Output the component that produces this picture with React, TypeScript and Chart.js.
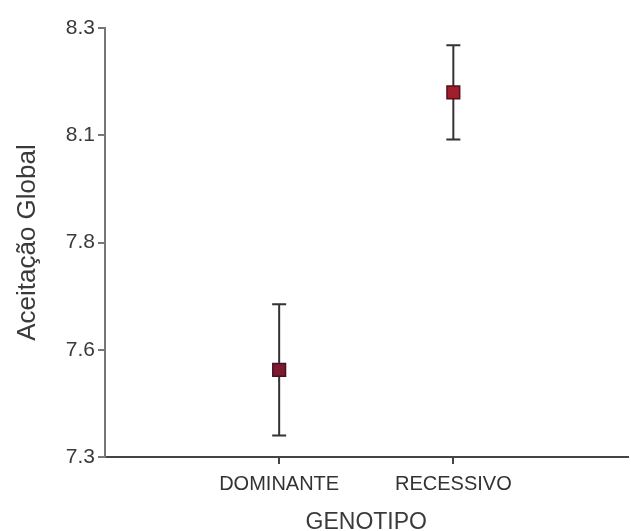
import React, { useEffect, useRef } from "react";
import { Chart, registerables } from "chart.js";

Chart.register(...registerables);

const categories = ["DOMINANTE", "RECESSIVO"];
const categoryPositions = [1, 2];
const means = [7.503, 8.15];
const errors = [0.153, 0.11];
const yTicks = [7.3, 7.55, 7.8, 8.05, 8.3];
const yTickLabels = ["7.3", "7.6", "7.8", "8.1", "8.3"];
const yTitle = "Aceitação Global";
const xTitle = "GENOTIPO";

const FONT = "'Liberation Sans', Arial, sans-serif";

const errorBarPlugin = {
  id: "errorBars",
  beforeDatasetsDraw(chart: any) {
    const { ctx, scales } = chart;
    const xs = scales.x;
    const ys = scales.y;
    ctx.save();
    ctx.strokeStyle = "#333333";
    ctx.lineWidth = 2;
    categoryPositions.forEach((pos, i) => {
      const x = xs.getPixelForValue(pos);
      const yTop = ys.getPixelForValue(means[i] + errors[i]);
      const yBot = ys.getPixelForValue(means[i] - errors[i]);
      ctx.beginPath();
      ctx.moveTo(x, yTop);
      ctx.lineTo(x, yBot);
      ctx.moveTo(x - 7, yTop);
      ctx.lineTo(x + 7, yTop);
      ctx.moveTo(x - 7, yBot);
      ctx.lineTo(x + 7, yBot);
      ctx.stroke();
    });
    ctx.restore();
  },
};

export default function App() {
  const ref = useRef<HTMLCanvasElement>(null);

  useEffect(() => {
    if (!ref.current) return;
    const chart = new Chart(ref.current, {
      type: "scatter",
      data: {
        datasets: [
          {
            data: categoryPositions.map((p, i) => ({ x: p, y: means[i] })),
            pointStyle: "rect",
            pointRadius: 9,
            pointHoverRadius: 9,
            backgroundColor: ["#7c1a30", "#a01f2c"],
            borderColor: ["#4a1020", "#5a1018"],
            borderWidth: 1.5,
          },
        ],
      },
      options: {
        animation: false,
        responsive: false,
        events: [],
        layout: { padding: { top: 28, right: 0, left: 0, bottom: 0 } },
        plugins: {
          legend: { display: false },
          tooltip: { enabled: false },
        },
        scales: {
          x: {
            type: "linear",
            min: 0,
            max: 3,
            afterBuildTicks: (scale: any) => {
              scale.ticks = categoryPositions.map((v) => ({ value: v }));
            },
            afterFit: (scale: any) => {
              scale.height = 74;
            },
            ticks: {
              autoSkip: false,
              maxRotation: 0,
              padding: 8,
              color: "#333333",
              font: { family: FONT, size: 20 },
              callback: (v: any) => {
                const idx = categoryPositions.indexOf(Number(v));
                return idx >= 0 ? categories[idx] : "";
              },
            },
            grid: {
              drawOnChartArea: false,
              drawTicks: true,
              tickLength: 7,
              color: "#444444",
              lineWidth: 2,
            },
            border: { display: true, color: "#444444", width: 2 },
            title: {
              display: true,
              text: xTitle,
              color: "#3a3a3a",
              font: { family: FONT, size: 23, lineHeight: 1 },
              padding: { top: 0, bottom: -3 },
            },
          },
          y: {
            type: "linear",
            min: 7.3,
            max: 8.3,
            afterBuildTicks: (scale: any) => {
              scale.ticks = yTicks.map((v) => ({ value: v }));
            },
            afterFit: (scale: any) => {
              scale.width = 105;
            },
            ticks: {
              padding: 3,
              color: "#3a3a3a",
              font: { family: FONT, size: 21 },
              callback: (v: any) => {
                const idx = yTicks.findIndex((t) => Math.abs(t - Number(v)) < 1e-6);
                return idx >= 0 ? yTickLabels[idx] : "";
              },
            },
            grid: {
              drawOnChartArea: false,
              drawTicks: true,
              tickLength: 7,
              color: "#777777",
              lineWidth: 2,
            },
            border: { display: true, color: "#777777", width: 2 },
            title: {
              display: true,
              text: yTitle,
              color: "#3a3a3a",
              font: { family: FONT, size: 26, lineHeight: 1.2 },
              padding: { top: 12, bottom: 0 },
            },
          },
        },
      },
      plugins: [errorBarPlugin],
    });
    return () => chart.destroy();
  }, []);

  return (
    <div
      style={{
        position: "fixed",
        left: 0,
        top: 0,
        width: 631,
        height: 531,
        overflow: "hidden",
        background: "#fff",
      }}
    >
      <canvas ref={ref} width={638} height={531} style={{ display: "block" }} />
    </div>
  );
}
